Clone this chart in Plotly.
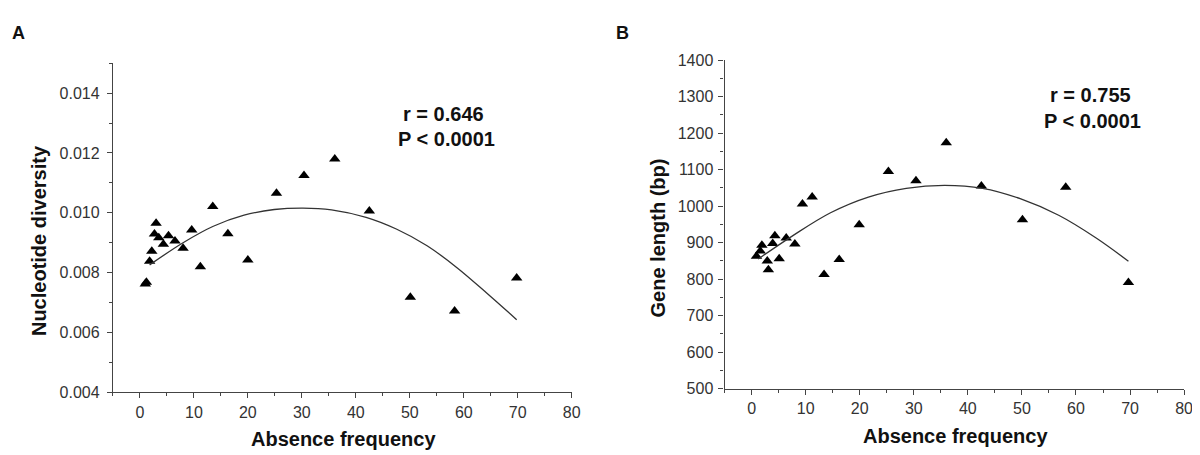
import plotly.graph_objects as go

# ---- Panel A data: absence frequency vs nucleotide diversity ----
freq_a = [1.0, 1.2, 1.8, 2.2, 2.7, 3.0, 3.5, 4.35, 5.3, 6.5, 8.0, 9.6, 11.2, 13.5,
          16.3, 20.0, 25.3, 30.4, 36.1, 42.5, 50.1, 58.3, 69.8]
div_a = [0.00762, 0.00768, 0.00838, 0.00872, 0.00929, 0.00965, 0.00917, 0.00895,
         0.00923, 0.00906, 0.00882, 0.00943, 0.00820, 0.01021, 0.00930, 0.00842,
         0.01065, 0.01125, 0.01180, 0.01006, 0.00718, 0.00672, 0.00782]
fit_a_x = [1.8, 8.0, 13.6, 19.3, 24.9, 30.2, 35.5, 41.9, 47.5, 53.2, 58.8, 64.5, 69.8]
fit_a_y = [0.00826, 0.00900, 0.00955, 0.00992, 0.01011, 0.01016, 0.01010, 0.00985,
           0.00946, 0.00890, 0.00816, 0.00728, 0.00643]

# ---- Panel B data: absence frequency vs gene length ----
freq_b = [0.9, 1.6, 1.9, 2.9, 3.1, 3.9, 4.3, 5.1, 6.4, 8.0, 9.4, 11.2, 13.4, 16.2,
          19.9, 25.3, 30.4, 36.0, 42.5, 50.1, 58.1, 69.7]
len_b = [863, 877, 893, 850, 826, 898, 919, 856, 913, 896, 1006, 1025, 813, 854,
         949, 1095, 1070, 1174, 1055, 963, 1052, 791]
fit_b_x = [1.2, 7.5, 14.6, 21.6, 28.6, 35.7, 42.7, 49.8, 56.8, 63.8, 69.7]
fit_b_y = [855, 918, 982, 1025, 1049, 1057, 1049, 1020, 975, 912, 849]

stats_a = ["r = 0.646", "P < 0.0001"]
stats_b = ["r = 0.755", "P < 0.0001"]

W, H = 1200, 455
def px(x):
    return x / W
def py(y):
    return 1 - y / H

fig = go.Figure()
marker = dict(symbol="triangle-up", size=10, color="black")
line = dict(color="#333333", width=1.3, shape="spline", smoothing=1.0)

fig.add_trace(go.Scatter(x=freq_a, y=div_a, mode="markers", marker=marker,
                         xaxis="x", yaxis="y", showlegend=False))
fig.add_trace(go.Scatter(x=fit_a_x, y=fit_a_y, mode="lines", line=line,
                         xaxis="x", yaxis="y", showlegend=False))
fig.add_trace(go.Scatter(x=freq_b, y=len_b, mode="markers", marker=marker,
                         xaxis="x2", yaxis="y2", showlegend=False))
fig.add_trace(go.Scatter(x=fit_b_x, y=fit_b_y, mode="lines", line=line,
                         xaxis="x2", yaxis="y2", showlegend=False))

tickfont = dict(family="Arial, Liberation Sans, sans-serif", size=16, color="#333333")
axis_common = dict(showline=True, linecolor="#444444", linewidth=1.2, showgrid=False,
                   zeroline=False, ticks="outside", ticklen=5, tickwidth=1.2,
                   tickcolor="#444444", tickfont=tickfont)

xax = dict(axis_common, range=[-5, 80], tickmode="linear", tick0=0, dtick=10,
           minor=dict(ticks="outside", ticklen=3, dtick=5, tick0=0,
                      tickcolor="#444444", tickwidth=1.2))

fig.update_layout(
    width=W, height=H,
    margin=dict(l=0, r=0, t=0, b=0),
    paper_bgcolor="white", plot_bgcolor="white",
    xaxis=dict(xax, domain=[px(105.7), px(568)], anchor="y"),
    yaxis=dict(axis_common, domain=[1 - 391 / H, 1 - 49 / H], anchor="x",
               range=[0.004, 0.015], tickmode="array", ticklabelstandoff=4,
               tickvals=[0.004, 0.006, 0.008, 0.010, 0.012, 0.014],
               ticktext=["0.004", "0.006", "0.008", "0.010", "0.012", "0.014"],
               minor=dict(ticks="outside", ticklen=3, dtick=0.001, tick0=0.004,
                          tickcolor="#444444", tickwidth=1.2)),
    xaxis2=dict(xax, domain=[px(722), px(1185)], anchor="y2"),
    yaxis2=dict(axis_common, domain=[1 - 387 / H, 1 - 46 / H], anchor="x2",
                range=[500, 1400], tickmode="linear", tick0=500, dtick=100,
                ticklabelstandoff=2,
                minor=dict(ticks="outside", ticklen=3, dtick=50, tick0=500,
                           tickcolor="#444444", tickwidth=1.2)),
)

bold = dict(family="Arial, Liberation Sans, sans-serif", size=20, color="#111111")
ann = []
# axis titles
ann.append(dict(text="<b>Nucleotide diversity</b>", x=px(32), y=py(233), textangle=-90,
                font=bold))
ann.append(dict(text="<b>Gene length (bp)</b>", x=px(655), y=py(231), textangle=-90,
                font=bold))
ann.append(dict(text="<b>Absence frequency</b>", x=px(338), y=py(439), font=bold))
ann.append(dict(text="<b>Absence frequency</b>", x=px(955), y=py(436), font=bold))
# panel letters
ann.append(dict(text="<b>A</b>", x=px(11), y=py(18), font=dict(bold, size=18)))
ann.append(dict(text="<b>B</b>", x=px(619), y=py(18), font=dict(bold, size=18)))
# statistics
ann.append(dict(text="<b>%s</b>" % stats_a[0], x=px(439), y=py(102), font=bold))
ann.append(dict(text="<b>%s</b>" % stats_a[1], x=px(442), y=py(128), font=bold))
ann.append(dict(text="<b>%s</b>" % stats_b[0], x=px(1091), y=py(82), font=bold))
ann.append(dict(text="<b>%s</b>" % stats_b[1], x=px(1093), y=py(109), font=bold))

for a in ann:
    a.update(xref="paper", yref="paper", showarrow=False, xanchor="center",
             yanchor="middle")
fig.update_layout(annotations=ann)

fig.write_html("out.html")
